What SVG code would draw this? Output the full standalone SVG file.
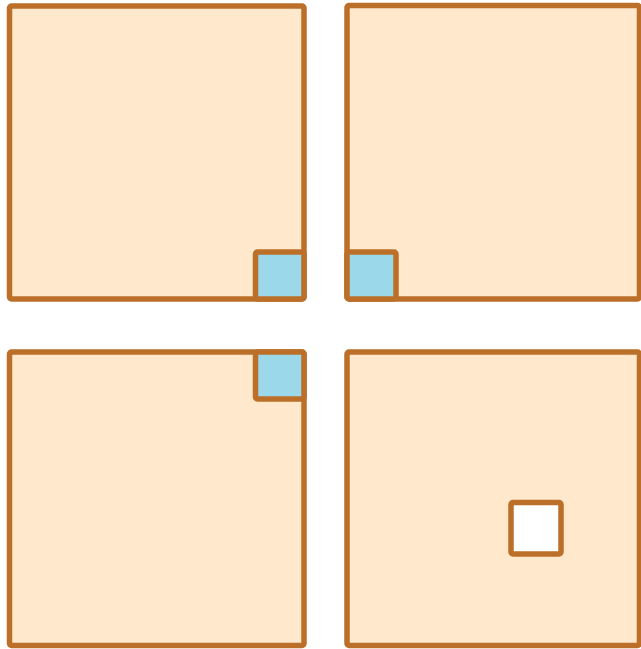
<svg xmlns="http://www.w3.org/2000/svg" width="641" height="649" viewBox="0 0 641 649">
<style>
.outer{fill:#FFE8CB;stroke:#BC6F28;stroke-width:5.5;stroke-linejoin:round}
.cell{fill:#9BD8E9;stroke:#BC6F28;stroke-width:5.5;stroke-linejoin:round}
.hole{fill:#FFFFFF;stroke:#BC6F28;stroke-width:5.5;stroke-linejoin:round}
</style>
<rect width="641" height="649" fill="#FFFFFF"/>
<g id="square-top-left">
<rect class="outer" x="9.5" y="6" width="294.5" height="293" rx="2"/>
<rect class="cell" x="255.5" y="252" width="48.5" height="47" rx="2"/>
</g>
<g id="square-top-right">
<rect class="outer" x="347" y="5.5" width="292.5" height="293.5" rx="2"/>
<rect class="cell" x="347" y="252" width="49" height="47" rx="2"/>
</g>
<g id="square-bottom-left">
<rect class="outer" x="9.5" y="352" width="294.5" height="293.5" rx="2"/>
<rect class="cell" x="255.5" y="352" width="48.5" height="47" rx="2"/>
</g>
<g id="square-bottom-right">
<rect class="outer" x="347" y="352" width="292.5" height="293.5" rx="2"/>
<rect class="hole" x="511" y="502.5" width="50" height="51.5" rx="2"/>
</g>
<g id="connectors"></g>
</svg>
